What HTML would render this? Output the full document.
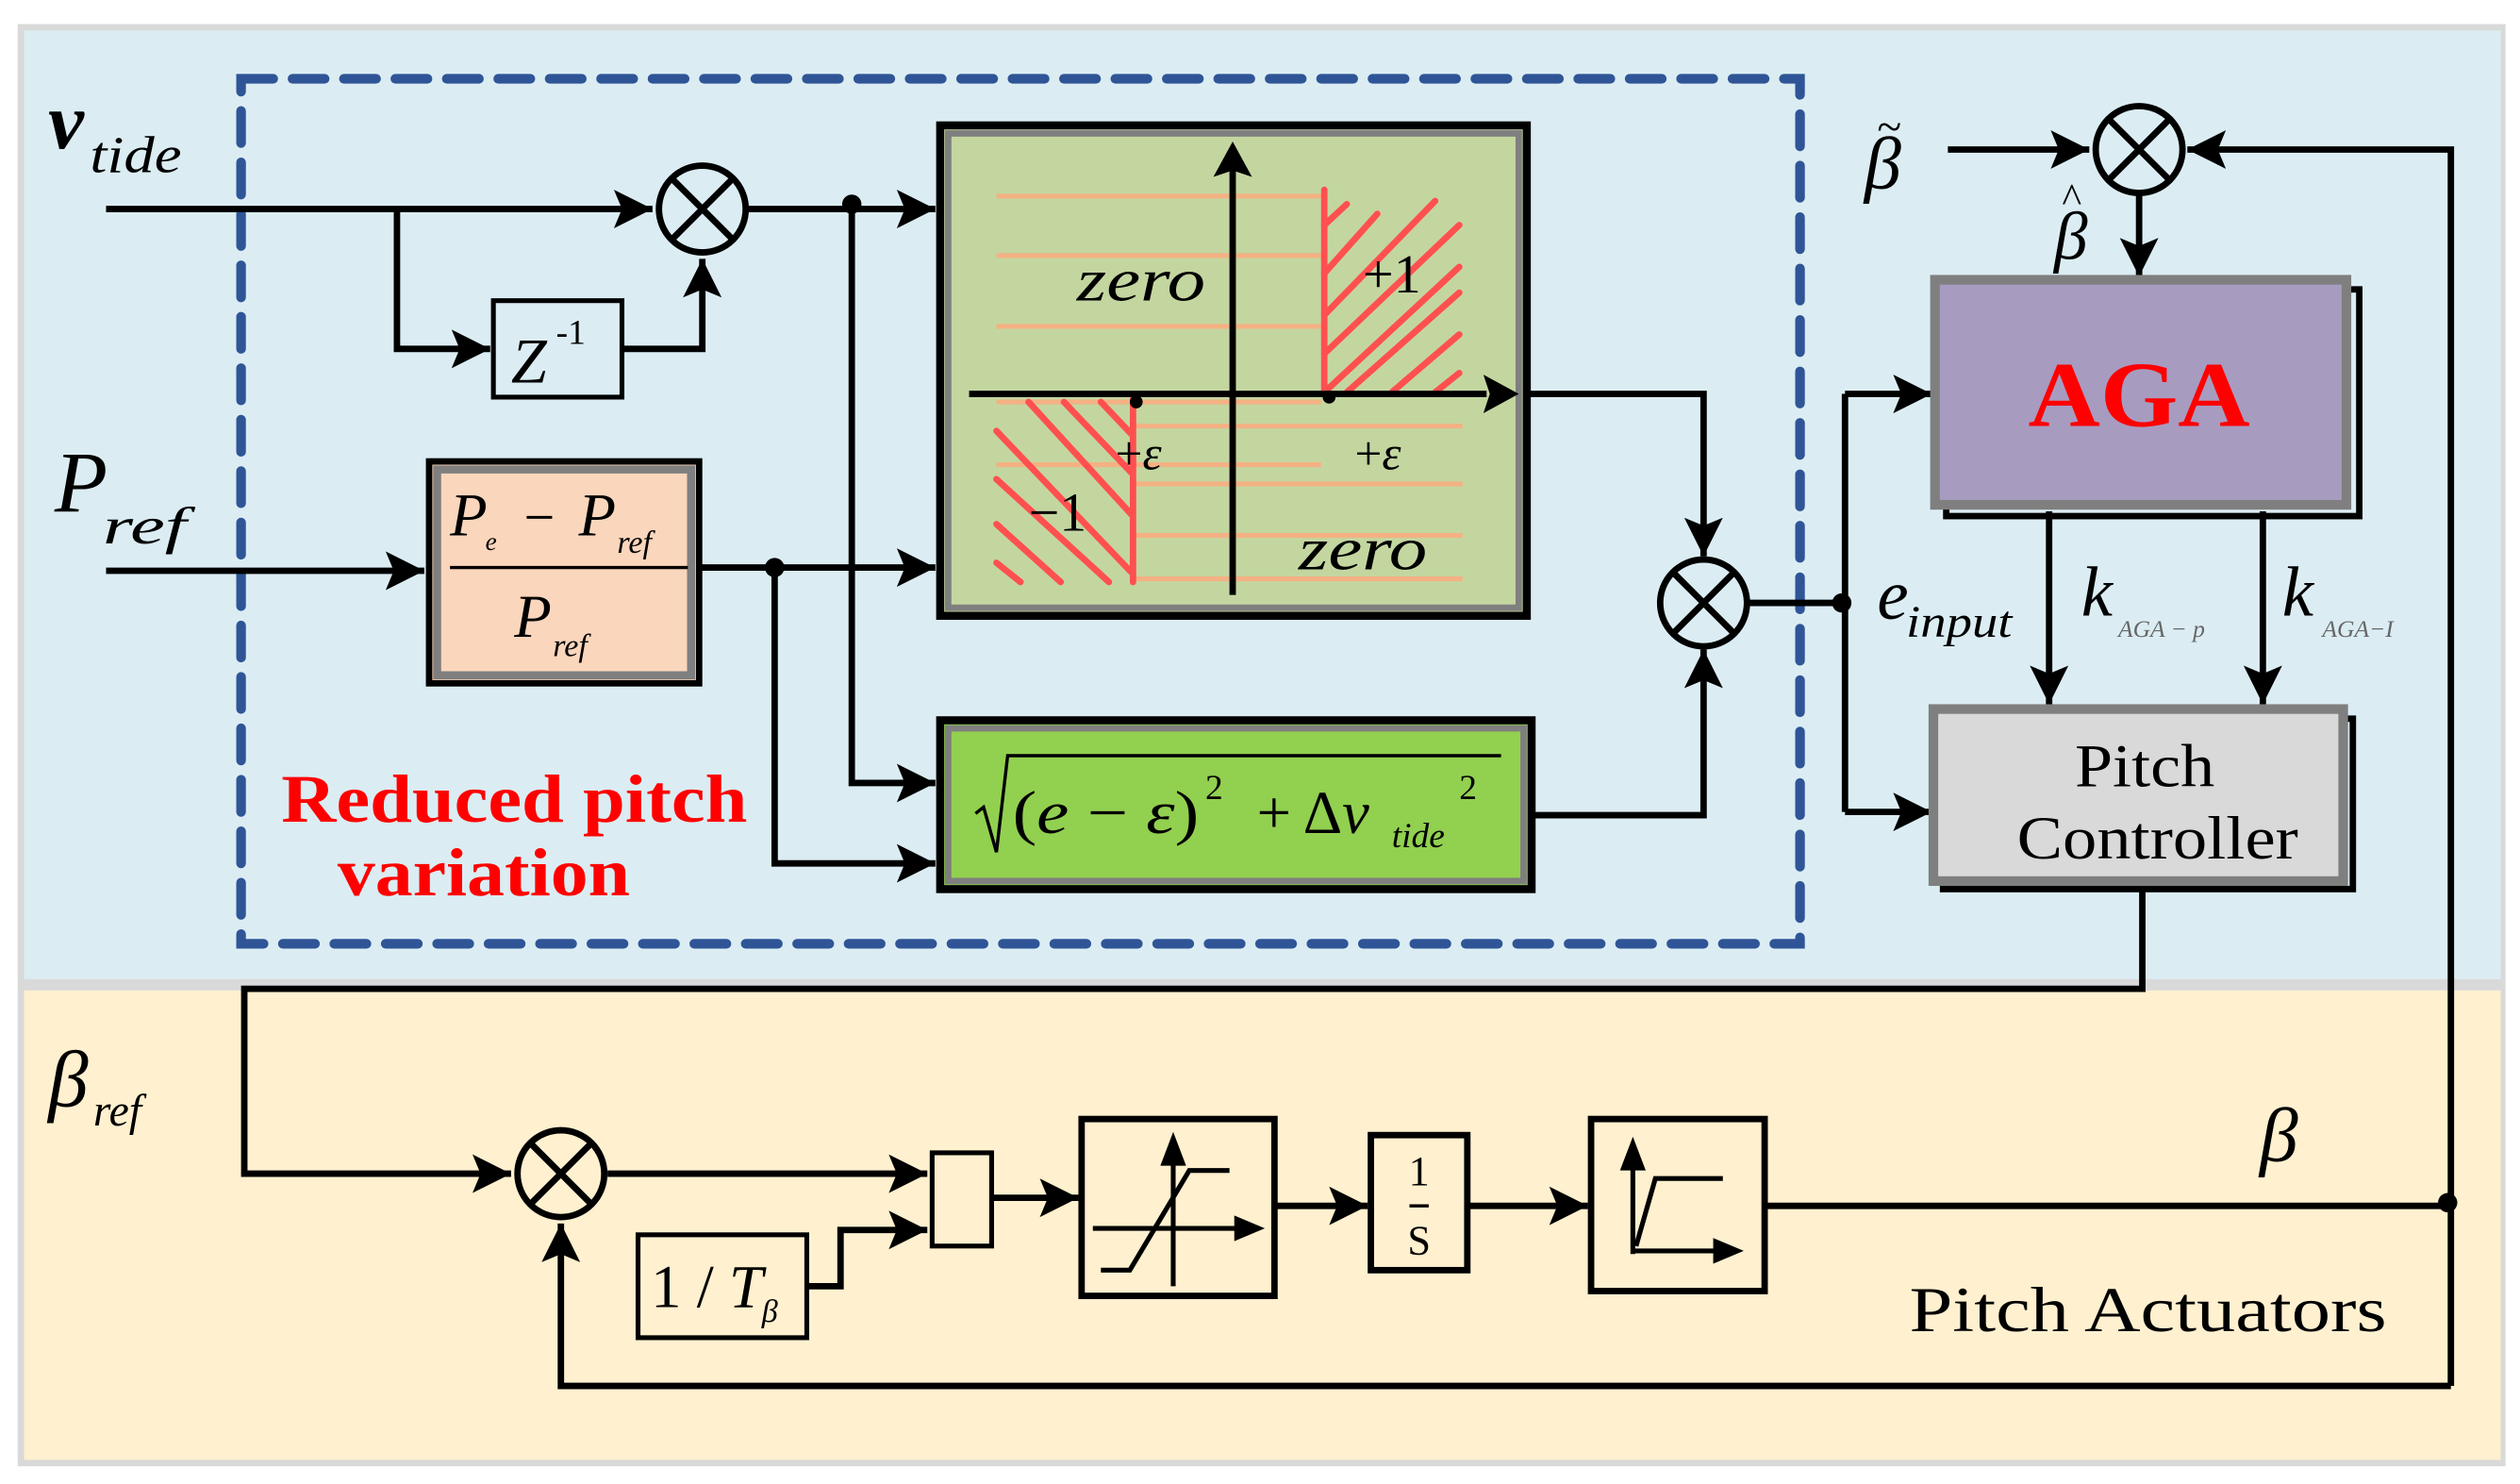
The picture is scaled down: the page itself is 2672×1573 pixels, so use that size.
<!DOCTYPE html>
<html><head><meta charset="utf-8"><style>
html,body{margin:0;padding:0;background:#fff;}
svg{display:block;}
text{font-family:"Liberation Serif",serif;}
</style></head><body>
<svg width="2672" height="1573" viewBox="0 0 1568 923" preserveAspectRatio="none" xmlns="http://www.w3.org/2000/svg">
<defs>
<marker id="a" markerUnits="userSpaceOnUse" markerWidth="30" markerHeight="30" refX="24" refY="12" orient="auto">
<path d="M0,0 L24,12 L0,24 L5,12 Z" fill="#000"/>
</marker>
</defs>
<rect x="0" y="0" width="1568" height="923" fill="#fff"/>
<rect x="11" y="15" width="1548" height="897" fill="#d9d9d9"/>
<rect x="15" y="19" width="1541" height="590" fill="#dbedf3"/>
<rect x="15" y="616" width="1541" height="292" fill="#fff0cf"/>

<rect x="150" y="49" width="970" height="538" fill="none" stroke="#2f5597" stroke-width="6" stroke-dasharray="20,12" stroke-linecap="round"/>

<g stroke="#000" stroke-width="4" fill="none">
<path d="M66,130 H406" marker-end="url(#a)"/>
<path d="M247,130 V217 H305" marker-end="url(#a)"/>
<path d="M388,217 H437 V161" marker-end="url(#a)"/>
<circle cx="437" cy="130" r="27"/>
<path d="M418,111 L456,149 M456,111 L418,149"/>
<path d="M465,130 H582" marker-end="url(#a)"/>
<path d="M530,130 V487 H582" marker-end="url(#a)"/>
<path d="M66,355 H264" marker-end="url(#a)"/>
<path d="M436,353 H582" marker-end="url(#a)"/>
<path d="M482,353 V537 H582" marker-end="url(#a)"/>
<path d="M952,245 H1060 V346" marker-end="url(#a)"/>
<path d="M955,507 H1060 V404" marker-end="url(#a)"/>
<circle cx="1060" cy="375" r="27"/>
<path d="M1041,356 L1079,394 M1079,356 L1041,394"/>
<path d="M1088,375 H1148"/>
<path d="M1148,245 V505"/>
<path d="M1148,245 H1202" marker-end="url(#a)"/>
<path d="M1148,505 H1202" marker-end="url(#a)"/>
<path d="M1212,93 H1300" marker-end="url(#a)"/>
<circle cx="1331" cy="93" r="27"/>
<path d="M1312,74 L1350,112 M1350,74 L1312,112"/>
<path d="M1525,862 V93 H1361" marker-end="url(#a)"/>
<path d="M1331,121 V172" marker-end="url(#a)"/>
<path d="M1275,318 V438" marker-end="url(#a)"/>
<path d="M1408,318 V438" marker-end="url(#a)"/>
<path d="M1333,553 V615 H152 V730 H318" marker-end="url(#a)"/>
<circle cx="349" cy="730" r="27"/>
<path d="M330,711 L368,749 M368,711 L330,749"/>
<path d="M378,730 H577" marker-end="url(#a)"/>
<path d="M503,800 H523 V765 H577" marker-end="url(#a)"/>
<path d="M618,745 H671" marker-end="url(#a)"/>
<path d="M794,750 H851" marker-end="url(#a)"/>
<path d="M914,750 H988" marker-end="url(#a)"/>
<path d="M1098,750 H1525"/>
<path d="M1525,862 H349 V761" marker-end="url(#a)"/>
</g>
<circle cx="530" cy="127" r="6" fill="#000"/>
<circle cx="482" cy="353" r="6" fill="#000"/>
<circle cx="1146" cy="375" r="6" fill="#000"/>
<circle cx="1523" cy="748" r="6" fill="#000"/>

<rect x="307" y="187" width="80" height="60" fill="#dbedf3" stroke="#000" stroke-width="3"/>
<text x="318" y="238" font-size="40" font-style="italic">Z</text>
<text x="346" y="214" font-size="22">-1</text>

<rect x="267" y="287" width="168" height="138" fill="#fad6bc" stroke="#000" stroke-width="4"/>
<rect x="272" y="292" width="158" height="128" fill="none" stroke="#7f7f7f" stroke-width="5"/>
<text x="280" y="333" font-size="38" font-style="italic">P</text>
<text x="302" y="342" font-size="16" font-style="italic">e</text>
<text x="326" y="333" font-size="34">−</text>
<text x="360" y="333" font-size="38" font-style="italic">P</text>
<text x="384" y="344" font-size="20" font-style="italic">ref</text>
<line x1="280" y1="353" x2="428" y2="353" stroke="#000" stroke-width="2"/>
<text x="320" y="396" font-size="38" font-style="italic">P</text>
<text x="344" y="408" font-size="20" font-style="italic">ref</text>

<rect x="585" y="78" width="365" height="305" fill="#c4d6a0" stroke="#000" stroke-width="5"/>
<rect x="590" y="83" width="355" height="295" fill="none" stroke="#7f7f7f" stroke-width="4"/>
<g stroke="#f4b183" stroke-width="3">
<path d="M620,122 H822 M620,159 H822 M620,203 H822 M620,250 H822 M620,289 H822"/>
<path d="M705,265 H910 M705,301 H910 M705,333 H910 M705,360 H910"/>
</g>
<g stroke="#ff5050" stroke-width="4" fill="none" stroke-linecap="round">
<path d="M824,118 V244"/>
<path d="M824,140 L838,127 M824,170 L857,133 M824,196 L893,125 M824,220 L908,140 M824,244 L908,166 M838,244 L908,182 M866,244 L908,208 M893,244 L908,232"/>
<path d="M705,248 V362"/>
<path d="M620,268 L704,356 M620,298 L690,362 M620,326 L660,362 M620,350 L635,362 M640,250 L704,320 M662,250 L704,294 M685,250 L704,270"/>
</g>
<g stroke="#000" stroke-width="4">
<line x1="603" y1="245" x2="925" y2="245"/>
<line x1="767" y1="370" x2="767" y2="105"/>
</g>
<path d="M945,245 L923,233 L927,245 L923,257 Z" fill="#000"/>
<path d="M767,88 L755,110 L767,106 L779,110 Z" fill="#000"/>
<circle cx="707" cy="250" r="4" fill="#000"/>
<circle cx="827" cy="247" r="4" fill="#000"/>
<text x="670" y="187" font-size="38" font-style="italic" textLength="80" lengthAdjust="spacingAndGlyphs">zero</text>
<text x="848" y="182" font-size="34">+1</text>
<text x="694" y="292" font-size="30">+<tspan font-style="italic">ε</tspan></text>
<text x="843" y="292" font-size="30">+<tspan font-style="italic">ε</tspan></text>
<text x="640" y="330" font-size="34">−1</text>
<text x="808" y="354" font-size="38" font-style="italic" textLength="80" lengthAdjust="spacingAndGlyphs">zero</text>

<rect x="585" y="448" width="368" height="105" fill="#92d050" stroke="#000" stroke-width="5"/>
<rect x="590" y="453" width="358" height="95" fill="none" stroke="#7f7f7f" stroke-width="4"/>
<path d="M607,506 L612,502 L620,530 L627,470 L934,470" fill="none" stroke="#000" stroke-width="2"/>
<text x="630" y="518" font-size="38" textLength="116" lengthAdjust="spacingAndGlyphs">(<tspan font-style="italic">e</tspan> − <tspan font-style="italic">ε</tspan>)</text>
<text x="750" y="497" font-size="22">2</text>
<text x="782" y="518" font-size="38" textLength="70" lengthAdjust="spacingAndGlyphs">+ Δ<tspan font-style="italic">v</tspan></text>
<text x="866" y="527" font-size="22" font-style="italic">tide</text>
<text x="908" y="497" font-size="22">2</text>

<rect x="1211" y="180" width="257" height="141" fill="none" stroke="#000" stroke-width="4"/>
<rect x="1204" y="174" width="256" height="140" fill="#a89bc0" stroke="#7f7f7f" stroke-width="6"/>
<text x="1262" y="265" font-size="58" font-weight="bold" fill="#ff0000" textLength="138" lengthAdjust="spacingAndGlyphs">AGA</text>

<rect x="1209" y="447" width="255" height="106" fill="none" stroke="#000" stroke-width="4"/>
<rect x="1203" y="441" width="255" height="107" fill="#d9d9d9" stroke="#7f7f7f" stroke-width="6"/>
<text x="1291" y="489" font-size="38" textLength="87" lengthAdjust="spacingAndGlyphs">Pitch</text>
<text x="1255" y="534" font-size="38" textLength="175" lengthAdjust="spacingAndGlyphs">Controller</text>

<rect x="580" y="717" width="37" height="58" fill="#fff0cf" stroke="#000" stroke-width="3"/>
<rect x="397" y="768" width="105" height="64" fill="#fff0cf" stroke="#000" stroke-width="3"/>
<text x="405" y="813" font-size="38">1 / <tspan font-style="italic">T</tspan></text>
<text x="474" y="822" font-size="20" font-style="italic">β</text>
<rect x="673" y="696" width="120" height="110" fill="#fff0cf" stroke="#000" stroke-width="4"/>
<g stroke="#000" stroke-width="3" fill="none">
<line x1="730" y1="800" x2="730" y2="715"/>
<line x1="680" y1="764" x2="775" y2="764"/>
<path d="M685,790 H703 L740,728 H765"/>
</g>
<path d="M730,704 L722,725 L738,725 Z M787,764 L768,756 L768,772 Z" fill="#000"/>
<rect x="853" y="706" width="60" height="84" fill="#fff0cf" stroke="#000" stroke-width="4"/>
<text x="883" y="737" font-size="26" text-anchor="middle">1</text>
<line x1="877" y1="750" x2="889" y2="750" stroke="#000" stroke-width="2"/>
<text x="883" y="780" font-size="26" text-anchor="middle">S</text>
<rect x="990" y="696" width="108" height="107" fill="#fff0cf" stroke="#000" stroke-width="4"/>
<g stroke="#000" stroke-width="3" fill="none">
<path d="M1016,780 V722 M1016,778 H1072 M1018,775 L1030,733 H1072"/>
</g>
<path d="M1016,707 L1008,728 L1024,728 Z M1085,778 L1066,770 L1066,786 Z" fill="#000"/>

<text x="30" y="92" font-size="50" font-style="italic" font-weight="bold">v</text>
<text x="56" y="107" font-size="32" font-style="italic" textLength="57" lengthAdjust="spacingAndGlyphs">tide</text>
<text x="34" y="318" font-size="54" font-style="italic">P</text>
<text x="64" y="338" font-size="32" font-style="italic" textLength="52" lengthAdjust="spacingAndGlyphs">ref</text>
<text x="30" y="688" font-size="50" font-style="italic">β</text>
<text x="58" y="700" font-size="28" font-style="italic">ref</text>
<text x="1160" y="117" font-size="46" font-style="italic">β</text>
<text x="1168" y="88" font-size="28">~</text>
<text x="1278" y="161" font-size="42" font-style="italic">β</text>
<text x="1283" y="132" font-size="26">^</text>
<text x="1168" y="385" font-size="44" font-style="italic">e</text>
<text x="1186" y="396" font-size="28" font-style="italic" textLength="66" lengthAdjust="spacingAndGlyphs">input</text>
<text x="1295" y="383" font-size="44" font-style="italic">k</text>
<text x="1318" y="396" font-size="15" font-style="italic" fill="#666">AGA − p</text>
<text x="1420" y="383" font-size="44" font-style="italic">k</text>
<text x="1445" y="396" font-size="15" font-style="italic" fill="#666">AGA−I</text>
<text x="1406" y="722" font-size="48" font-style="italic">β</text>
<text x="1188" y="828" font-size="40" textLength="297" lengthAdjust="spacingAndGlyphs">Pitch Actuators</text>
<text x="175" y="511" font-size="42" font-weight="bold" fill="#ff0000" textLength="290" lengthAdjust="spacingAndGlyphs">Reduced pitch</text>
<text x="210" y="557" font-size="42" font-weight="bold" fill="#ff0000" textLength="182" lengthAdjust="spacingAndGlyphs">variation</text>
</svg>
</body></html>
